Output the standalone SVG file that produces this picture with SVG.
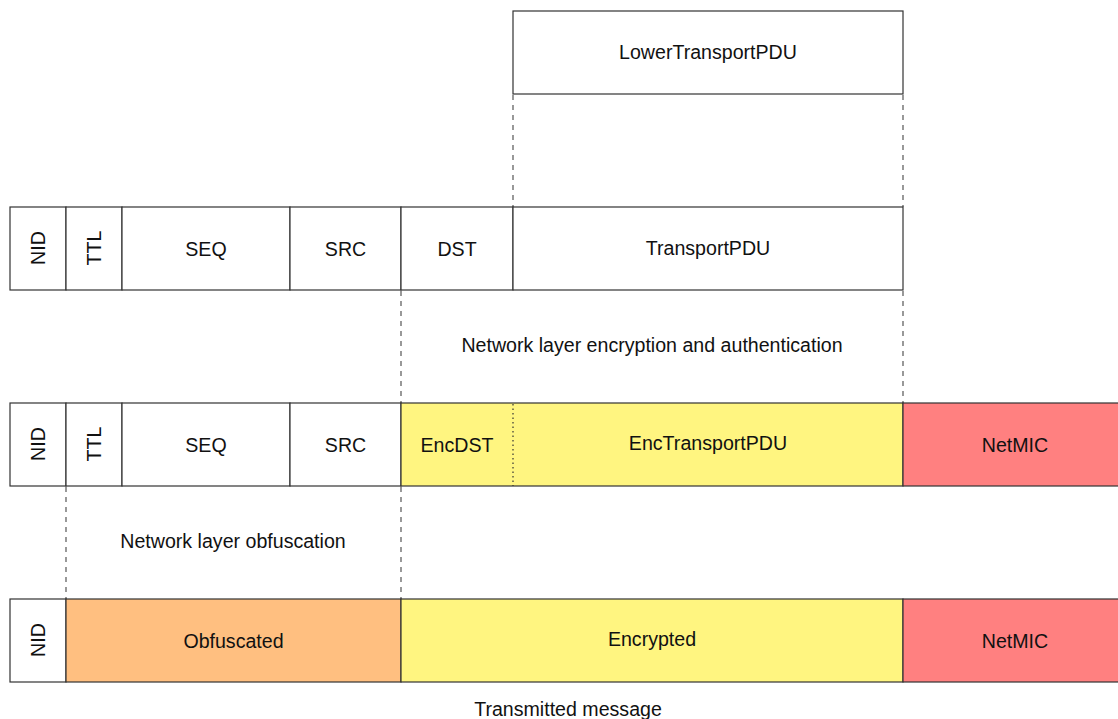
<svg xmlns="http://www.w3.org/2000/svg" width="1118" height="719" viewBox="0 0 1118 719">
  <style>
    .box { stroke: #333333; stroke-width: 1.2; }
    .plain { fill: #ffffff; }
    .enc { fill: #fff580; }
    .mic { fill: #ff8080; }
    .obf { fill: #ffbf80; }
    .lbl { font-family: "Liberation Sans", Arial, sans-serif; font-size: 19.6px; fill: #111111; text-anchor: middle; dominant-baseline: central; }
    .guide { stroke: #555555; stroke-width: 1.2; stroke-dasharray: 5 5; fill: none; }
    .split { stroke: #333333; stroke-width: 1.2; stroke-dasharray: 1.5 3; fill: none; }
  </style>
  <rect width="1118" height="719" fill="#ffffff"/>

  <!-- connectors: dashed projection guides -->
  <g id="connectors">
    <line class="guide" x1="513" y1="95" x2="513" y2="207"/>
    <line class="guide" x1="903" y1="95" x2="903" y2="207"/>
    <line class="guide" x1="401" y1="291" x2="401" y2="403"/>
    <line class="guide" x1="903" y1="291" x2="903" y2="403"/>
    <line class="guide" x1="66" y1="487" x2="66" y2="599"/>
    <line class="guide" x1="401" y1="487" x2="401" y2="599"/>
  </g>

  <!-- top: lower transport PDU -->
  <g id="lower-transport-pdu">
    <rect class="box plain" x="513" y="11" width="390" height="83"/>
    <text class="lbl" x="708" y="52">LowerTransportPDU</text>
  </g>

  <!-- row 1: network PDU fields -->
  <g id="r1-nid"><rect class="box plain" x="10" y="207" width="56" height="83"/><text class="lbl" transform="translate(38 248) rotate(-90)">NID</text></g>
  <g id="r1-ttl"><rect class="box plain" x="66" y="207" width="56" height="83"/><text class="lbl" transform="translate(94 248) rotate(-90)">TTL</text></g>
  <g id="r1-seq"><rect class="box plain" x="122" y="207" width="168" height="83"/><text class="lbl" x="206" y="249">SEQ</text></g>
  <g id="r1-src"><rect class="box plain" x="290" y="207" width="111" height="83"/><text class="lbl" x="345.5" y="249">SRC</text></g>
  <g id="r1-dst"><rect class="box plain" x="401" y="207" width="112" height="83"/><text class="lbl" x="457" y="249">DST</text></g>
  <g id="r1-transportpdu"><rect class="box plain" x="513" y="207" width="390" height="83"/><text class="lbl" x="708" y="248">TransportPDU</text></g>

  <g id="label-encryption"><text class="lbl" x="652" y="345">Network layer encryption and authentication</text></g>

  <!-- row 2: after encryption -->
  <g id="r2-nid"><rect class="box plain" x="10" y="403" width="56" height="83"/><text class="lbl" transform="translate(38 444) rotate(-90)">NID</text></g>
  <g id="r2-ttl"><rect class="box plain" x="66" y="403" width="56" height="83"/><text class="lbl" transform="translate(94 444) rotate(-90)">TTL</text></g>
  <g id="r2-seq"><rect class="box plain" x="122" y="403" width="168" height="83"/><text class="lbl" x="206" y="445">SEQ</text></g>
  <g id="r2-src"><rect class="box plain" x="290" y="403" width="111" height="83"/><text class="lbl" x="345.5" y="445">SRC</text></g>
  <g id="r2-encrypted">
    <rect class="box enc" x="401" y="403" width="502" height="83"/>
    <line class="split" x1="513" y1="404" x2="513" y2="486"/>
    <text class="lbl" x="457" y="445">EncDST</text>
    <text class="lbl" x="708" y="443">EncTransportPDU</text>
  </g>
  <g id="r2-netmic"><rect class="box mic" x="903" y="403" width="220" height="83"/><text class="lbl" x="1015" y="445">NetMIC</text></g>

  <g id="label-obfuscation"><text class="lbl" x="233" y="541">Network layer obfuscation</text></g>

  <!-- row 3: transmitted message -->
  <g id="r3-nid"><rect class="box plain" x="10" y="599" width="56" height="83"/><text class="lbl" transform="translate(38 640) rotate(-90)">NID</text></g>
  <g id="r3-obfuscated"><rect class="box obf" x="66" y="599" width="335" height="83"/><text class="lbl" x="233.5" y="641">Obfuscated</text></g>
  <g id="r3-encrypted"><rect class="box enc" x="401" y="599" width="502" height="83"/><text class="lbl" x="652" y="639">Encrypted</text></g>
  <g id="r3-netmic"><rect class="box mic" x="903" y="599" width="220" height="83"/><text class="lbl" x="1015" y="641">NetMIC</text></g>

  <g id="label-transmitted"><text class="lbl" x="568" y="709">Transmitted message</text></g>
</svg>
